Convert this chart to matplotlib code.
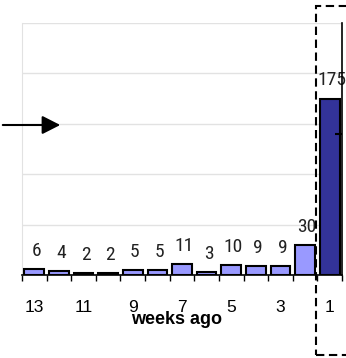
import matplotlib
matplotlib.use("Agg")
import matplotlib.pyplot as plt
from matplotlib.patches import Rectangle, FancyArrowPatch
from matplotlib import font_manager
import numpy as np

# Weekly counts, oldest first
weeks = [13, 12, 11, 10, 9, 8, 7, 6, 5, 4, 3, 2, 1]
counts = [6, 4, 2, 2, 5, 5, 11, 3, 10, 9, 9, 30, 175]
labelled_weeks = [13, 11, 9, 7, 5, 3, 1]
y_max = 250
y_step = 50

light = "#9999FF"
dark = "#333399"


def first_font(names):
    for n in names:
        try:
            font_manager.findfont(font_manager.FontProperties(family=n),
                                  fallback_to_default=False)
            return n
        except Exception:
            continue
    return "DejaVu Sans"


narrow = first_font(["Liberation Sans Narrow", "DejaVu Sans Condensed", "Roboto Condensed"])
narrow_stretch = "normal"
arial = first_font(["Liberation Sans", "DejaVu Sans"])

W, H = 346, 358
fig = plt.figure(figsize=(W / 100, H / 100), dpi=100)
ax = fig.add_axes([22 / W, (H - 275) / H, 320 / W, 252 / H])

x = np.arange(len(weeks))
colors = [dark if w == 1 else light for w in weeks]
ax.bar(x, counts, width=0.8, color=colors, edgecolor="black", linewidth=1.5, zorder=3)

ax.set_xlim(-0.5, len(weeks) - 0.5)
ax.set_ylim(0, y_max)
ax.set_yticks(np.arange(0, y_max + 1, y_step))
ax.yaxis.grid(True, color="#e2e2e2", linewidth=1)
ax.tick_params(axis="y", left=False, labelleft=False)

# Category labels at every other week, boundary ticks in between
lab_pos = [weeks.index(w) for w in labelled_weeks]
ax.set_xticks(lab_pos)
ax.set_xticklabels([str(w) for w in labelled_weeks], fontsize=12.5, family=arial)
ax.tick_params(axis="x", which="major", length=0, pad=18)
ax.set_xticks(np.arange(-0.5, len(weeks)), minor=True)
ax.tick_params(axis="x", which="minor", length=4, width=1, color="black", direction="out")

ax.set_xlabel("weeks ago", fontsize=13, fontweight="bold", family=arial)
ax.xaxis.set_label_coords(0.484, -0.143)

ax.spines["top"].set_visible(False)
ax.spines["left"].set_color("#e2e2e2")
ax.spines["bottom"].set_color("black")
ax.spines["bottom"].set_linewidth(1.2)
ax.spines["right"].set_color("black")
ax.spines["right"].set_linewidth(1.2)
ax.spines["right"].set_zorder(6)

# Single inward tick on the right-hand axis
sec = ax.secondary_yaxis("right")
sec.set_yticks([140])
sec.tick_params(direction="in", length=5, width=1.5, labelright=False)
sec.spines["right"].set_visible(False)
sec.set_zorder(10)

# Value labels above each bar
for xi, c in zip(x, counts):
    ax.annotate(str(c), (xi, c), xytext=(1.5, 9.5), textcoords="offset points",
                ha="center", va="baseline", fontsize=14, color="#222222",
                family=narrow, annotation_clip=False)

# Dashed frame around the latest week
fig.patches.append(Rectangle((316 / W, (H - 355) / H), 60 / W, 349 / H,
                             transform=fig.transFigure, fill=False,
                             edgecolor="black", linewidth=1.5,
                             linestyle=(0, (4, 2.2)), zorder=5))

# Pointer arrow from the left edge
fig.add_artist(FancyArrowPatch(
    (0, (H - 125) / H), (63 / W, (H - 125) / H),
    transform=fig.transFigure, arrowstyle="-|>,head_length=0.55,head_width=0.28",
    mutation_scale=20, color="black", linewidth=1.5))

fig.savefig("out.png", dpi=100)
